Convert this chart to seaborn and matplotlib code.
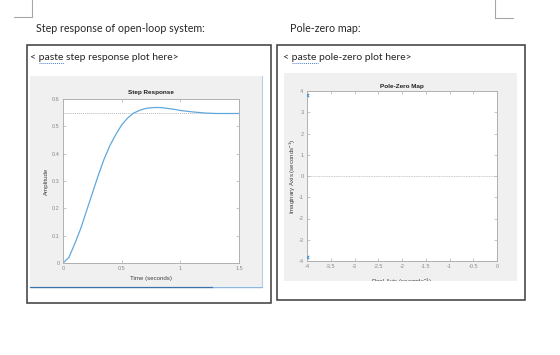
import numpy as np
import pandas as pd
import matplotlib
matplotlib.use("Agg")
import matplotlib.pyplot as plt
from matplotlib.patches import Rectangle
from matplotlib.lines import Line2D
import seaborn as sns

# ---------------- data ----------------
step_time = [0, 0.05, 0.1, 0.15, 0.2, 0.25, 0.3, 0.35, 0.4, 0.45, 0.5, 0.55,
             0.6, 0.65, 0.7, 0.75, 0.8, 0.85, 0.9, 0.95, 1.0, 1.1, 1.2, 1.3,
             1.4, 1.5]
step_amp = [0, 0.02, 0.07, 0.125, 0.19, 0.255, 0.32, 0.38, 0.43, 0.47, 0.505,
            0.53, 0.548, 0.558, 0.565, 0.568, 0.569, 0.568, 0.565, 0.562,
            0.558, 0.553, 0.549, 0.547, 0.547, 0.547]
steady_state = 0.548
step_xticks = [0, 0.5, 1, 1.5]
step_xticklabels = ["0", "0.5", "1", "1.5"]
step_yticks = [0, 0.1, 0.2, 0.3, 0.4, 0.5, 0.6]
step_yticklabels = ["0", "0.1", "0.2", "0.3", "0.4", "0.5", "0.6"]

pole_real = [-4.0, -4.0]
pole_imag = [3.8, -3.8]
pz_xticks = [-4, -3.5, -3, -2.5, -2, -1.5, -1, -0.5, 0]
pz_xticklabels = ["-4", "-3.5", "-3", "-2.5", "-2", "-1.5", "-1", "-0.5", "0"]
pz_yticks = [-4, -3, -2, -1, 0, 1, 2, 3, 4]
pz_yticklabels = ["-4", "-3", "-2", "-1", "0", "1", "2", "3", "4"]

header_left = "Step response of open-loop system:"
header_right = "Pole-zero map:"
placeholder_left = "< paste step response plot here>"
placeholder_right = "< paste pole-zero plot here>"

# ---------------- style ----------------
sns.set_style("white")
plt.rcParams["font.family"] = ["Liberation Sans", "DejaVu Sans"]
plt.rcParams["axes.unicode_minus"] = False
plt.rcParams["mathtext.default"] = "regular"

W, H = 560, 355
fig = plt.figure(figsize=(W / 100, H / 100), dpi=100)
fig.patch.set_facecolor("white")


def fx(x):
    return x / W


def fy(y):
    return 1 - y / H


def rect(x0, y0, x1, y1, **kw):
    r = Rectangle((fx(x0), fy(y1)), (x1 - x0) / W, (y1 - y0) / H,
                  transform=fig.transFigure, **kw)
    fig.add_artist(r)
    return r


def line(xs, ys, **kw):
    l = Line2D([fx(x) for x in xs], [fy(y) for y in ys],
               transform=fig.transFigure, **kw)
    fig.add_artist(l)
    return l


def text(x, y, s, **kw):
    fig.text(fx(x), fy(y), s, **kw)


doc_font = ["Lato", "DejaVu Sans"]
doc_color = "#262626"

# page corner marks
line([32, 32], [0, 17], color="#a6a6a6", lw=0.8)
line([14, 32], [17, 17], color="#a6a6a6", lw=0.8)
line([495, 495], [0, 18], color="#a6a6a6", lw=0.8)
line([495, 513], [18, 18], color="#a6a6a6", lw=0.8)

# headers
text(36, 28, header_left, family=doc_font, fontsize=7.7, color=doc_color,
     va="center", ha="left")
text(290, 28, header_right, family=doc_font, fontsize=7.7, color=doc_color,
     va="center", ha="left")

# boxes
rect(27, 45, 271, 303, fill=False, ec="#3a3a3a", lw=1.1, zorder=1)
rect(277, 45, 525, 300, fill=False, ec="#3a3a3a", lw=1.1, zorder=1)

# placeholders
text(30, 57, placeholder_left, family=doc_font, fontsize=7.5, color=doc_color,
     va="center", ha="left")
text(283, 57, placeholder_right, family=doc_font, fontsize=7.5,
     color=doc_color, va="center", ha="left")
line([39, 64], [62.5, 62.5], color="#4a7fd0", lw=0.7, ls=(0, (1, 1)))
line([292, 318], [62.5, 62.5], color="#4a7fd0", lw=0.7, ls=(0, (1, 1)))

# grey figure backgrounds
rect(30, 76, 262, 286, fc="#f0f0f0", ec="none", zorder=0)
rect(284, 73, 517, 281, fc="#f0f0f0", ec="none", zorder=0)
line([30, 213], [286.5, 286.5], color="#3c72a8", lw=1.0, zorder=3)
line([213, 262], [286.5, 286.5], color="#8fb6dc", lw=1.0, zorder=3)
line([262, 262], [76, 286], color="#b4cde6", lw=0.8, zorder=3)

tick_color = "#8a8a8a"
spine_color = "#b0b0b0"
label_color = "#404040"


def style_axes(ax):
    ax.set_facecolor("white")
    for s in ax.spines.values():
        s.set_visible(True)
        s.set_color(spine_color)
        s.set_linewidth(0.7)
    ax.tick_params(direction="in", length=2, width=0.5, colors=spine_color,
                   labelcolor=tick_color, labelsize=4, pad=2.5,
                   top=True, right=True, bottom=True, left=True)


# ---------------- step response ----------------
ax1 = fig.add_axes([fx(63), fy(263), (239 - 63) / W, (263 - 99) / H])
step_df = pd.DataFrame({"Time": step_time, "Amplitude": step_amp})
ax1.axhline(steady_state, color="#b8b8b8", lw=0.7, ls=(0, (1, 1)), zorder=1)
sns.lineplot(data=step_df, x="Time", y="Amplitude", ax=ax1,
             color="#5fa8de", lw=0.9, zorder=2)
ax1.set_xlim(0, 1.5)
ax1.set_ylim(0, 0.6)
ax1.set_xticks(step_xticks, step_xticklabels)
ax1.set_yticks(step_yticks, step_yticklabels)
style_axes(ax1)
ax1.set_title("Step Response", fontsize=4.6, fontweight="bold", pad=3.5,
              color="#202020")
ax1.set_xlabel("Time (seconds)", fontsize=4.4, color=label_color, labelpad=3.5)
ax1.set_ylabel("Amplitude", fontsize=4.4, color=label_color, labelpad=2)

# ---------------- pole-zero map ----------------
ax2 = fig.add_axes([fx(307), fy(261), (497 - 307) / W, (261 - 91) / H])
pz_df = pd.DataFrame({"Real": pole_real, "Imag": pole_imag})
ax2.axhline(0, color="#b8b8b8", lw=0.6, ls=(0, (1, 1)), zorder=1)
sns.scatterplot(data=pz_df, x="Real", y="Imag", ax=ax2, marker="x",
                color="#3a8fd0", s=6, linewidth=0.8, clip_on=True, zorder=3)
ax2.set_xlim(-4, 0)
ax2.set_ylim(-4, 4)
ax2.set_xticks(pz_xticks, pz_xticklabels)
ax2.set_yticks(pz_yticks, pz_yticklabels)
style_axes(ax2)
ax2.set_title("Pole-Zero Map", fontsize=4.6, fontweight="bold", pad=2.5,
              color="#202020")
ax2.set_xlabel(r"Real Axis (seconds$^{-1}$)", fontsize=4.4,
               color=label_color, labelpad=5.5)
ax2.set_ylabel(r"Imaginary Axis (seconds$^{-1}$)", fontsize=4.4,
               color=label_color, labelpad=0.5)

# cut-off of the pole-zero figure at its bottom edge
rect(284, 281, 517, 298, fc="white", ec="none", zorder=10)

fig.savefig("out.png", dpi=100, facecolor="white")
